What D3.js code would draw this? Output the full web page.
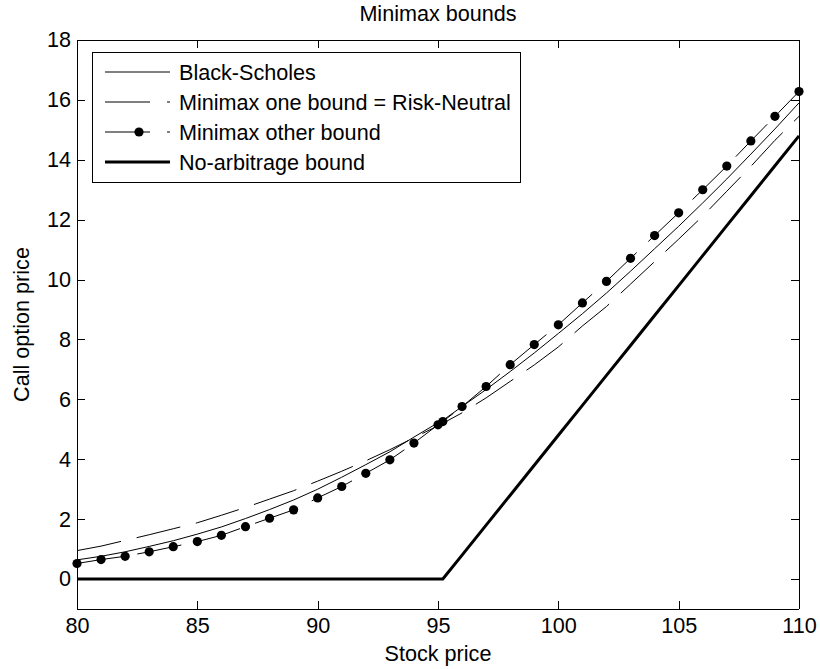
<!DOCTYPE html>
<html>
<head>
<meta charset="utf-8">
<script src="https://cdn.jsdelivr.net/npm/d3@7"></script>
<style>
  html, body { margin: 0; padding: 0; background: #fff; }
  svg { display: block; }
  text { font-family: "Liberation Sans", Arial, Helvetica, sans-serif; fill: #000; }
</style>
</head>
<body>
<svg id="chart" width="820" height="669"></svg>
<script>
// ---- data ----
const stockPrices = [80,81,82,83,84,85,86,87,88,89,90,91,92,93,94,95,95.2,96,97,98,99,100,101,102,103,104,105,106,107,108,109,110];

const blackScholes = [0.64,0.76,0.91,1.09,1.28,1.50,1.74,2.02,2.32,2.64,3.00,3.40,3.82,4.25,4.74,5.22,5.30,5.76,6.33,6.93,7.55,8.20,8.86,9.55,10.28,11.03,11.78,12.56,13.36,14.19,15.03,15.90];

const minimaxOne = [0.95,1.10,1.29,1.48,1.68,1.88,2.13,2.39,2.67,2.95,3.27,3.60,3.95,4.32,4.72,5.12,5.20,5.55,6.05,6.60,7.15,7.75,8.45,9.10,9.85,10.60,11.35,12.12,12.95,13.78,14.65,15.45];

const minimaxOther = [0.52,0.65,0.76,0.91,1.08,1.25,1.46,1.75,2.03,2.31,2.71,3.09,3.53,3.98,4.54,5.15,5.26,5.76,6.43,7.16,7.83,8.49,9.22,9.94,10.71,11.47,12.23,13.00,13.79,14.63,15.45,16.28];

const noArbitrage = [0,0,0,0,0,0,0,0,0,0,0,0,0,0,0,0,0,0.8,1.8,2.8,3.8,4.8,5.8,6.8,7.8,8.8,9.8,10.8,11.8,12.8,13.8,14.8];

const xTicks = [80,85,90,95,100,105,110];
const yTicks = [0,2,4,6,8,10,12,14,16,18];

const seriesNames = ["Black-Scholes", "Minimax one bound = Risk-Neutral", "Minimax other bound", "No-arbitrage bound"];

const titleText = "Minimax bounds";
const xLabel = "Stock price";
const yLabel = "Call option price";

// ---- layout ----
const plot = { left: 77, right: 799, top: 40, bottom: 609 };
const fontSize = 21.6;
const tickLen = 8;

const svg = d3.select("#chart");
svg.append("rect").attr("width", 820).attr("height", 669).attr("fill", "#fff");

const x = d3.scaleLinear().domain([80, 110]).range([plot.left, plot.right]);
const y = d3.scaleLinear().domain([-1, 18]).range([plot.bottom, plot.top]);

// ---- series lines ----
const lineGen = vals => d3.line()
  .x((d, i) => x(stockPrices[i]))
  .y((d) => y(d))(vals);

const g = svg.append("g");

g.append("path").attr("d", lineGen(blackScholes))
  .attr("fill", "none").attr("stroke", "#000").attr("stroke-width", 1);

g.append("path").attr("d", lineGen(minimaxOne))
  .attr("fill", "none").attr("stroke", "#000").attr("stroke-width", 1)
  .attr("stroke-dasharray", "45,16");

g.append("path").attr("d", lineGen(minimaxOther))
  .attr("fill", "none").attr("stroke", "#000").attr("stroke-width", 1)
  .attr("stroke-dasharray", "45,16");

g.selectAll("circle.dot").data(minimaxOther).enter().append("circle")
  .attr("class", "dot")
  .attr("cx", (d, i) => x(stockPrices[i]))
  .attr("cy", d => y(d))
  .attr("r", 4.6)
  .attr("fill", "#000");

g.append("path").attr("d", lineGen(noArbitrage))
  .attr("fill", "none").attr("stroke", "#000").attr("stroke-width", 3)
  .attr("stroke-linejoin", "round");

// ---- axes (box with inward ticks on all four sides) ----
const axG = svg.append("g").attr("shape-rendering", "crispEdges");

const xb = d3.axisBottom(x).tickValues(xTicks).tickSize(-tickLen).tickPadding(9).tickFormat(d3.format("d"));
const xt = d3.axisTop(x).tickValues(xTicks).tickSize(-tickLen).tickFormat("");
const yl = d3.axisLeft(y).tickValues(yTicks).tickSize(-tickLen).tickPadding(6).tickFormat(d3.format("d"));
const yr = d3.axisRight(y).tickValues(yTicks).tickSize(-tickLen).tickFormat("");

function styleAxis(sel) {
  sel.selectAll("path.domain").attr("stroke", "#000").attr("stroke-width", 1);
  sel.selectAll(".tick line").attr("stroke", "#000").attr("stroke-width", 1);
  sel.selectAll(".tick text").attr("font-size", fontSize).attr("fill", "#000")
    .attr("font-family", "Liberation Sans, Arial, sans-serif");
}

const gxb = axG.append("g").attr("transform", `translate(0,${plot.bottom})`).call(xb);
gxb.select("path.domain").attr("d", `M${plot.left},0H${plot.right}`);
styleAxis(gxb);

const gxt = axG.append("g").attr("transform", `translate(0,${plot.top})`).call(xt);
gxt.select("path.domain").attr("d", `M${plot.left},0H${plot.right}`);
styleAxis(gxt);

const gyl = axG.append("g").attr("transform", `translate(${plot.left},0)`).call(yl);
gyl.select("path.domain").attr("d", `M0,${plot.top}V${plot.bottom}`);
styleAxis(gyl);

const gyr = axG.append("g").attr("transform", `translate(${plot.right},0)`).call(yr);
gyr.select("path.domain").attr("d", `M0,${plot.top}V${plot.bottom}`);
styleAxis(gyr);

// ---- title and axis labels ----
svg.append("text").attr("x", (plot.left + plot.right) / 2).attr("y", 21)
  .attr("text-anchor", "middle").attr("font-size", fontSize).text(titleText);

svg.append("text").attr("x", (plot.left + plot.right) / 2).attr("y", 661)
  .attr("text-anchor", "middle").attr("font-size", fontSize).text(xLabel);

svg.append("text")
  .attr("transform", `translate(29,${(plot.top + plot.bottom) / 2}) rotate(-90)`)
  .attr("text-anchor", "middle").attr("font-size", fontSize).text(yLabel);

// ---- legend ----
const leg = svg.append("g");
leg.append("rect").attr("x", 92.5).attr("y", 52.5).attr("width", 428).attr("height", 130)
  .attr("fill", "#fff").attr("stroke", "#000").attr("stroke-width", 1);

const legStyles = [
  { dash: null, width: 1, dot: false },
  { dash: "45,17", width: 1, dot: false },
  { dash: "45,17", width: 1, dot: true },
  { dash: null, width: 3, dot: false }
];

seriesNames.forEach((name, i) => {
  const cy = 72 + i * 30;
  const st = legStyles[i];
  const ln = leg.append("line").attr("x1", 105).attr("x2", 170).attr("y1", cy).attr("y2", cy)
    .attr("stroke", "#000").attr("stroke-width", st.width);
  if (st.dash) ln.attr("stroke-dasharray", st.dash);
  if (st.dot) leg.append("circle").attr("cx", 139).attr("cy", cy).attr("r", 4.6).attr("fill", "#000");
  leg.append("text").attr("x", 179).attr("y", cy).attr("dy", "0.36em")
    .attr("font-size", fontSize).text(name);
});
</script>
</body>
</html>
